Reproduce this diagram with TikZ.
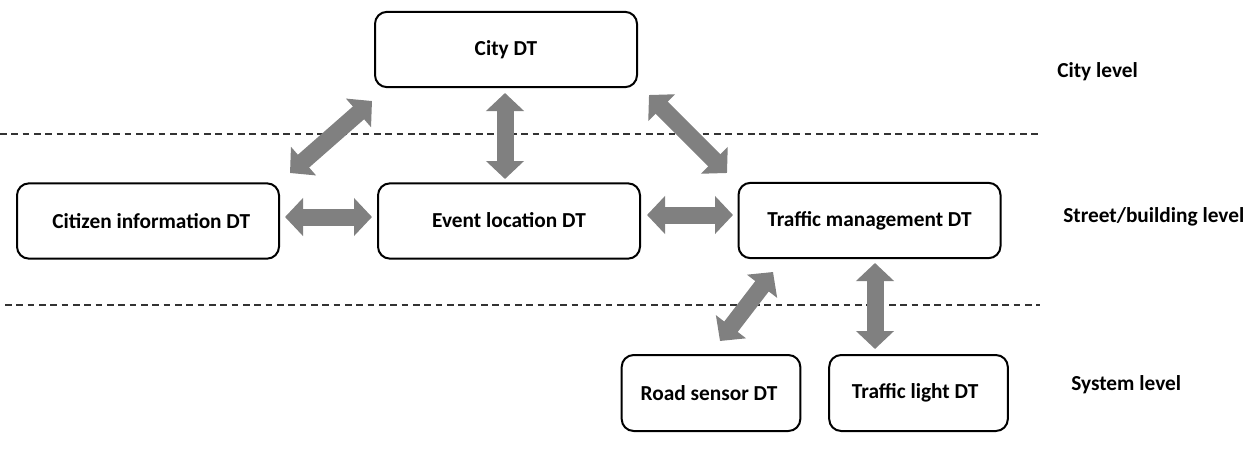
\documentclass[tikz,border=0pt]{standalone}
\usepackage{fontspec}
\setmainfont{Carlito}
\usetikzlibrary{arrows.meta}
\definecolor{arrgray}{HTML}{808080}
\tikzset{
  box/.style={draw=black, line width=1.5pt, rounded corners=9pt, fill=white,
    inner sep=0pt, font=\bfseries\fontsize{16}{18}\selectfont},
  bigbox/.style={box, minimum width=196.5pt, minimum height=56.5pt},
  smallbox/.style={box, minimum width=134pt, minimum height=57pt},
  lvl/.style={anchor=west, inner sep=0pt, font=\bfseries\fontsize{16}{18}\selectfont},
  dbl/.style={draw=arrgray, line width=12.75pt,
    {Triangle[width=27.75pt,length=13.5pt]}-{Triangle[width=27.75pt,length=13.5pt]}},
  sep/.style={draw=black!80, line width=0.8pt, dash pattern=on 5pt off 3.5pt}
}
\begin{document}
\begin{tikzpicture}[x=0.75pt,y=-0.75pt]
\useasboundingbox (0,0) rectangle (1248,464);
% level separators
\coordinate (s1a) at (0,134); \coordinate (s1b) at (1040,134);
\coordinate (s2a) at (5,305); \coordinate (s2b) at (1040,305);
\draw[sep] (s1a) -- (s1b);
\draw[sep] (s2a) -- (s2b);
% nodes
\node[bigbox] (city) at (506,49.5) {\raisebox{-3pt}{City DT}};
\node[bigbox] (citizen) at (148,221) {\hspace*{5pt}Citizen information DT};
\node[bigbox] (event) at (509,221) {\raisebox{1pt}{Event location DT}};
\node[bigbox] (traffic) at (869.5,220.5) {\raisebox{3pt}{Traffic management DT}};
\node[smallbox] (road) at (711,393) {Road sensor DT\hspace*{3pt}};
\node[smallbox] (light) at (918.5,393) {Traffic light DT\hspace*{5pt}};
% level labels
\node[lvl] (l1) at (1057,72) {City level};
\node[lvl] (l2) at (1063,217) {Street/building level};
\node[lvl] (l3) at (1071,385) {System level};
% arrow end points
\coordinate (a1s) at (290,173); \coordinate (a1e) at (372,101);
\coordinate (a2s) at (505,93);  \coordinate (a2e) at (505,179);
\coordinate (a3s) at (649,95);  \coordinate (a3e) at (727,173);
\coordinate (a4s) at (285,217); \coordinate (a4e) at (372,217);
\coordinate (a5s) at (647,215); \coordinate (a5e) at (733,215);
\coordinate (a6s) at (720,341); \coordinate (a6e) at (773,272);
\coordinate (a7s) at (875,263); \coordinate (a7e) at (875,349);
\draw[dbl] (a1s) -- (a1e);
\draw[dbl] (a2s) -- (a2e);
\draw[dbl] (a3s) -- (a3e);
\draw[dbl] (a4s) -- (a4e);
\draw[dbl] (a5s) -- (a5e);
\draw[dbl] (a6s) -- (a6e);
\draw[dbl] (a7s) -- (a7e);
\end{tikzpicture}
\end{document}
